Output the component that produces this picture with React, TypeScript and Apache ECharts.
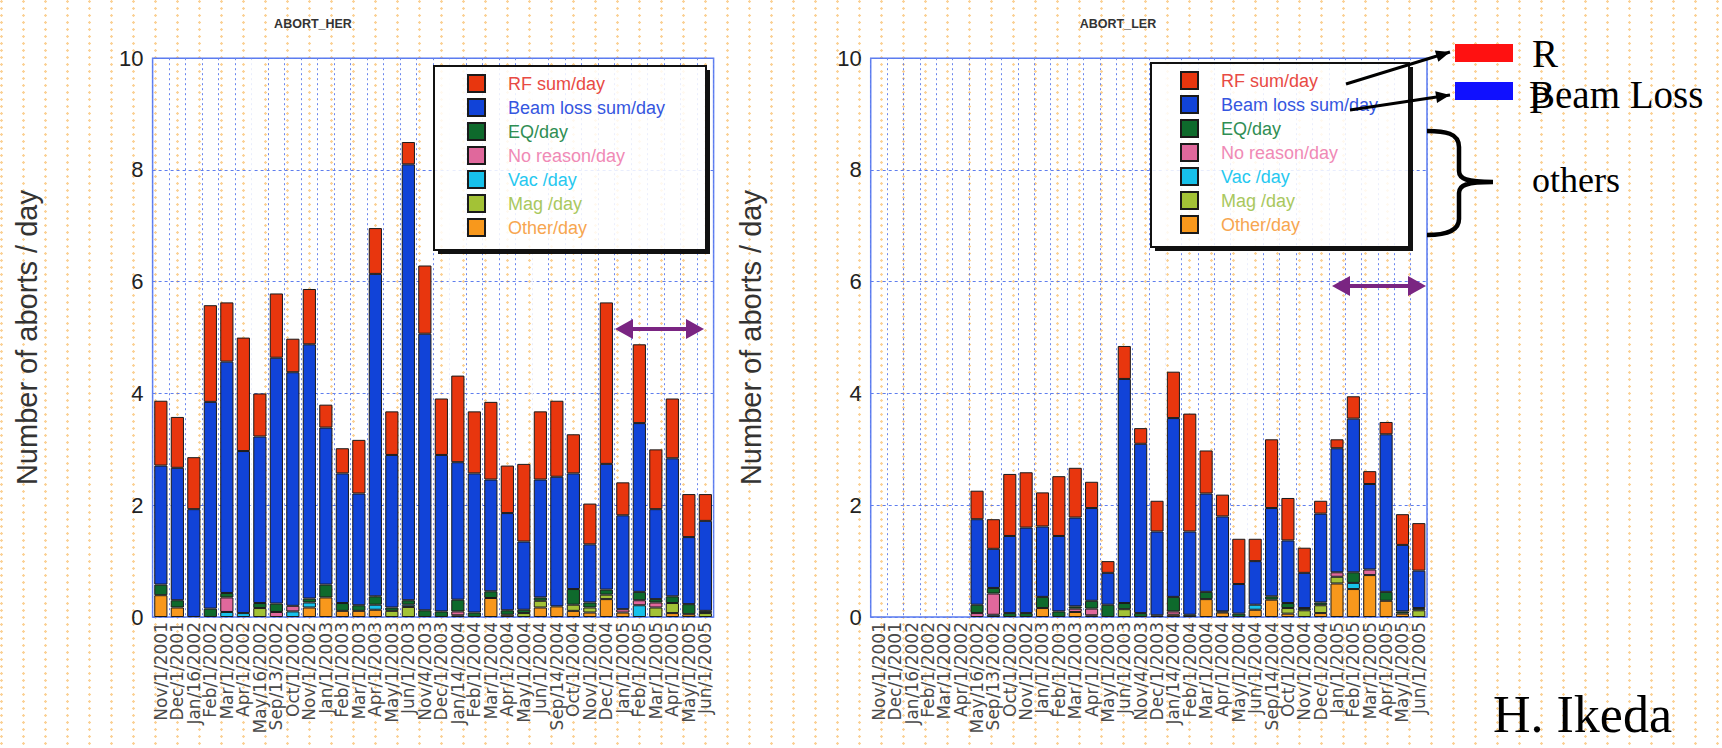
import React, { useEffect, useRef } from "react";
import * as echarts from "echarts";

const categories = [
  "Nov/1/2001", "Dec/1/2001", "Jan/16/2002", "Feb/1/2002", "Mar/1/2002", "Apr/1/2002",
  "May/16/2002", "Sep/13/2002", "Oct/1/2002", "Nov/1/2002", "Jan/1/2003", "Feb/1/2003",
  "Mar/1/2003", "Apr/1/2003", "May/1/2003", "Jun/1/2003", "Nov/4/2003", "Dec/1/2003",
  "Jan/14/2004", "Feb/1/2004", "Mar/1/2004", "Apr/1/2004", "May/1/2004", "Jun/1/2004",
  "Sep/14/2004", "Oct/1/2004", "Nov/1/2004", "Dec/1/2004", "Jan/1/2005", "Feb/1/2005",
  "Mar/1/2005", "Apr/1/2005", "May/1/2005", "Jun/1/2005",
];

const seriesNames = ["RF sum/day", "Beam loss sum/day", "EQ/day", "No reason/day", "Vac /day", "Mag /day", "Other/day"];
const seriesColors = ["#e8360e", "#1143d8", "#0e6a2c", "#e0689c", "#17c1ea", "#a3c236", "#f8981c"];
const legendTextColors = ["#e84a44", "#3556e0", "#2f8e54", "#f08ab6", "#26c8f0", "#a9c85e", "#f7a650"];

// ABORT_HER
const herRF = [1.16, 0.91, 0.93, 1.73, 1.06, 2.03, 0.77, 1.15, 0.60, 0.99, 0.41, 0.45, 0.96, 0.82, 0.78, 0.40, 1.22, 1.01, 1.55, 1.11, 1.39, 0.85, 1.39, 1.22, 1.36, 0.70, 0.73, 2.89, 0.59, 1.41, 1.07, 1.07, 0.77, 0.48];
const herBeam = [2.13, 2.37, 1.93, 3.70, 4.14, 2.90, 2.98, 4.40, 4.18, 4.55, 2.81, 2.32, 2.00, 5.77, 2.73, 7.80, 4.95, 2.80, 2.46, 2.49, 2.00, 1.74, 1.22, 2.11, 2.32, 2.07, 1.04, 2.25, 1.68, 3.02, 1.61, 2.47, 1.20, 1.61];
const herEQ = [0.19, 0.13, 0, 0.15, 0.08, 0, 0.09, 0.15, 0, 0.07, 0.23, 0.14, 0.10, 0.15, 0.06, 0.08, 0.12, 0.10, 0.21, 0.08, 0.12, 0.08, 0.06, 0.06, 0, 0.28, 0.09, 0.09, 0, 0.15, 0.06, 0.12, 0.18, 0.04];
const herNoReason = [0, 0, 0, 0, 0.26, 0, 0, 0.09, 0.10, 0, 0, 0, 0, 0, 0, 0, 0, 0, 0.07, 0, 0, 0, 0, 0, 0, 0, 0, 0, 0.06, 0.09, 0.09, 0, 0, 0];
const herVac = [0, 0, 0, 0, 0.09, 0.07, 0, 0, 0.10, 0.09, 0, 0, 0, 0.09, 0, 0.04, 0, 0, 0, 0, 0, 0, 0, 0, 0, 0, 0, 0, 0, 0.21, 0, 0, 0, 0];
const herMag = [0, 0, 0, 0, 0, 0, 0.16, 0, 0, 0, 0, 0, 0, 0, 0.11, 0.18, 0, 0, 0, 0, 0, 0, 0.07, 0.12, 0, 0.11, 0.09, 0.08, 0, 0, 0.17, 0.18, 0, 0.07];
const herOther = [0.39, 0.17, 0, 0, 0, 0, 0, 0, 0, 0.17, 0.35, 0.11, 0.11, 0.13, 0, 0, 0, 0, 0.03, 0, 0.34, 0.04, 0, 0.17, 0.19, 0.11, 0.08, 0.32, 0.08, 0, 0, 0.07, 0.05, 0];

// ABORT_LER (no data for the first six periods)
const lerRF = [null, null, null, null, null, null, 0.51, 0.53, 1.11, 0.99, 0.61, 1.07, 0.89, 0.47, 0.21, 0.59, 0.28, 0.55, 0.83, 2.11, 0.77, 0.39, 0.81, 0.40, 1.23, 0.76, 0.45, 0.23, 0.16, 0.40, 0.23, 0.22, 0.55, 0.85];
const lerBeam = [null, null, null, null, null, null, 1.53, 0.70, 1.38, 1.53, 1.26, 1.35, 1.59, 1.66, 0.57, 4.01, 3.03, 1.50, 3.20, 1.49, 1.76, 1.70, 0.53, 0.78, 1.58, 1.12, 0.63, 1.59, 2.22, 2.75, 1.53, 2.82, 1.19, 0.67];
const lerEQ = [null, null, null, null, null, null, 0.15, 0.10, 0.07, 0.07, 0.20, 0.10, 0.04, 0.14, 0.22, 0.11, 0.07, 0.03, 0.26, 0.04, 0.13, 0.02, 0.06, 0, 0.06, 0.09, 0.04, 0.05, 0, 0.19, 0, 0.16, 0.04, 0.04];
const lerNoReason = [null, null, null, null, null, null, 0.07, 0.38, 0, 0, 0, 0, 0.06, 0.12, 0, 0, 0, 0, 0.06, 0, 0, 0, 0, 0, 0, 0, 0, 0, 0.08, 0, 0.10, 0, 0, 0];
const lerVac = [null, null, null, null, null, null, 0, 0.04, 0, 0, 0, 0, 0, 0, 0, 0, 0, 0, 0, 0, 0, 0, 0, 0.09, 0, 0, 0, 0, 0, 0.11, 0, 0, 0, 0];
const lerMag = [null, null, null, null, null, null, 0, 0, 0, 0, 0, 0, 0, 0, 0, 0.14, 0, 0, 0, 0, 0, 0, 0, 0, 0, 0.10, 0.12, 0.14, 0.12, 0, 0, 0, 0, 0.12];
const lerOther = [null, null, null, null, null, null, 0, 0, 0, 0, 0.16, 0, 0.09, 0.03, 0, 0, 0, 0, 0.04, 0, 0.32, 0.08, 0, 0.13, 0.31, 0.06, 0, 0.07, 0.60, 0.50, 0.75, 0.29, 0.06, 0];

const yTicks = { min: 0, max: 10, interval: 2 };

// category boundaries where the original plots show a white separator
const herSeparators = [6, 18, 23];
const lerSeparators = [18, 23];

const herSets = [herRF, herBeam, herEQ, herNoReason, herVac, herMag, herOther];
const lerSets = [lerRF, lerBeam, lerEQ, lerNoReason, lerVac, lerMag, lerOther];

function head(x1: number, y1: number, x2: number, y2: number, len: number, half: number) {
  const dx = x2 - x1, dy = y2 - y1;
  const L = Math.hypot(dx, dy);
  const ux = dx / L, uy = dy / L;
  const bx = x2 - ux * len, by = y2 - uy * len;
  return [[x2, y2], [bx - uy * half, by + ux * half], [bx + uy * half, by - ux * half]];
}

function doubleArrow(x1: number, x2: number, y: number, color: string) {
  return [
    { type: "line", z: 20, shape: { x1: x1 + 12, y1: y, x2: x2 - 12, y2: y }, style: { stroke: color, lineWidth: 4 } },
    { type: "polygon", z: 20, shape: { points: head(x2, y, x1, y, 18, 10) }, style: { fill: color } },
    { type: "polygon", z: 20, shape: { points: head(x1, y, x2, y, 18, 10) }, style: { fill: color } },
  ];
}

function blackArrow(x1: number, y1: number, x2: number, y2: number) {
  return [
    { type: "line", z: 20, shape: { x1, y1, x2, y2 }, style: { stroke: "#000", lineWidth: 3 } },
    { type: "polygon", z: 20, shape: { points: head(x1, y1, x2, y2, 14, 6) }, style: { fill: "#000" } },
  ];
}

function legendBox(x: number, y: number, w: number, h: number) {
  return [
    { type: "rect", z: 3, shape: { x: x + 4, y: y + h, width: w, height: 4 }, style: { fill: "#111" } },
    { type: "rect", z: 3, shape: { x: x + w, y: y + 4, width: 4, height: h }, style: { fill: "#111" } },
    { type: "rect", z: 3, shape: { x, y, width: w, height: h }, style: { fill: "rgba(255,255,255,0.86)", stroke: "#111", lineWidth: 2 } },
  ];
}

const BRACE = "M0 2 C18 2 32 4 32 18 L32 42 C32 50 40 53 66 53 C40 53 32 56 32 64 L32 90 C32 102 18 106 0 106";
echarts.graphic.registerShape("brace", echarts.graphic.extendPath(BRACE, {}));

const G1 = { left: 152.6, top: 58.2, width: 561, height: 558.8 };
const G2 = { left: 870.7, top: 58.2, width: 556.3, height: 558.8 };

function separators(g: typeof G1, ks: number[]) {
  const cw = g.width / categories.length;
  return ks.map((k) => ({
    type: "line",
    z: 2.5,
    shape: { x1: g.left + k * cw, y1: g.top + 1, x2: g.left + k * cw, y2: g.top + g.height - 1 },
    style: { stroke: "rgba(255,255,255,0.85)", lineWidth: 2 },
  }));
}

export default function App() {
  const ref = useRef<HTMLDivElement>(null);

  useEffect(() => {
    if (!ref.current) return;
    const chart = echarts.init(ref.current, undefined, { renderer: "svg" });
    const font = "Arial, 'Liberation Sans', sans-serif";
    const serif = "'Liberation Serif', 'Times New Roman', serif";

    const mkX = (gridIndex: number) => ({
      type: "category",
      gridIndex,
      data: categories,
      axisLine: { show: false },
      axisTick: { show: false },
      axisLabel: { rotate: 90, interval: 0, fontSize: 17, fontFamily: "'DejaVu Sans', sans-serif", color: "#4a4a4a", margin: 5 },
      splitLine: { show: true, interval: 0, lineStyle: { color: "#6a86ee", type: [2, 3], width: 1 } },
    });
    const mkY = (gridIndex: number, gap: number) => ({
      type: "value",
      gridIndex,
      min: yTicks.min,
      max: yTicks.max,
      interval: yTicks.interval,
      axisLine: { show: false },
      axisTick: { show: false },
      axisLabel: { fontSize: 22, fontFamily: font, color: "#222", margin: 9 },
      splitLine: { show: true, lineStyle: { color: "#5f7eee", type: [3, 3], width: 1 } },
      name: "Number of aborts / day",
      nameLocation: "middle",
      nameGap: gap,
      nameTextStyle: { fontSize: 29, fontFamily: font, color: "#333" },
    });

    const order = [6, 5, 4, 3, 2, 1, 0];
    const mkSeries = (sets: (number | null)[][], idx: number, stack: string) =>
      order.map((k) => ({
        type: "bar",
        name: seriesNames[k],
        xAxisIndex: idx,
        yAxisIndex: idx,
        stack,
        barCategoryGap: "20%",
        data: sets[k].map((v) => (v === 0 ? null : v)),
        itemStyle: { color: seriesColors[k], borderColor: "#1a1a1a", borderWidth: 1 },
      }));

    const legendData = seriesNames.map((n, i) => ({ name: n, textStyle: { color: legendTextColors[i] } }));
    const mkLegend = (left: number, top: number) => ({
      orient: "vertical",
      left,
      top,
      z: 10,
      padding: 0,
      itemWidth: 17,
      itemHeight: 17,
      itemGap: 5,
      icon: "rect",
      selectedMode: false,
      data: legendData,
      textStyle: { fontSize: 18, fontFamily: font, lineHeight: 18, padding: [0, 0, 0, 18] },
    });

    const graphics: any[] = [
      { type: "text", z: 20, x: 313, y: 24, style: { text: "ABORT_HER", font: `bold 12.5px ${font}`, fill: "#333", align: "center", verticalAlign: "middle" } },
      { type: "text", z: 20, x: 1118, y: 24, style: { text: "ABORT_LER", font: `bold 12.5px ${font}`, fill: "#333", align: "center", verticalAlign: "middle" } },
      ...separators(G1, herSeparators),
      ...separators(G2, lerSeparators),
      ...legendBox(434, 66, 272, 184),
      ...legendBox(1151, 63, 258, 184),
      ...doubleArrow(615, 704, 329, "#7a2582"),
      ...doubleArrow(1332, 1426, 286, "#7a2582"),
      ...blackArrow(1346, 84, 1450, 52),
      ...blackArrow(1350, 110, 1450, 95),
      { type: "rect", z: 20, shape: { x: 1455, y: 44, width: 58, height: 18 }, style: { fill: "#ff1111" } },
      { type: "rect", z: 20, shape: { x: 1455, y: 82, width: 58, height: 18 }, style: { fill: "#1010ff" } },
      { type: "text", z: 20, x: 1532, y: 53, style: { text: "R", font: `39px ${serif}`, fill: "#000", verticalAlign: "middle" } },
      { type: "text", z: 20, x: 1529, y: 99, style: { text: "P", font: `39px ${serif}`, fill: "#000", verticalAlign: "middle" } },
      { type: "text", z: 20, x: 1529, y: 94, style: { text: "Beam Loss", font: `39px ${serif}`, fill: "#000", verticalAlign: "middle" } },
      { type: "brace", z: 20, x: 1427, y: 129, shape: {}, style: { stroke: "#000", lineWidth: 4.5, fill: null } },
      { type: "text", z: 20, x: 1532, y: 180, style: { text: "others", font: `36px ${serif}`, fill: "#000", verticalAlign: "middle" } },
      { type: "text", z: 20, x: 1493, y: 714, style: { text: "H. Ikeda", font: `52px ${serif}`, fill: "#000", verticalAlign: "middle" } },
    ];

    chart.setOption({
      animation: false,
      backgroundColor: "transparent",
      grid: [
        { ...G1, show: true, borderColor: "#5a7bf0", borderWidth: 1.5, backgroundColor: "transparent" },
        { ...G2, show: true, borderColor: "#5a7bf0", borderWidth: 1.5, backgroundColor: "transparent" },
      ],
      xAxis: [mkX(0), mkX(1)],
      yAxis: [mkY(0, 111), mkY(1, 105)],
      legend: [mkLegend(467, 74), mkLegend(1180, 71)],
      series: [...mkSeries(herSets, 0, "her"), ...mkSeries(lerSets, 1, "ler")],
      graphic: graphics,
    });

    return () => chart.dispose();
  }, []);

  return (
    <div
      style={{
        position: "fixed",
        left: 0,
        top: 0,
        width: 1722,
        height: 748,
        backgroundColor: "#fff",
        backgroundImage: "radial-gradient(circle at 1.5px 1.5px, rgba(247,172,64,0.55) 1px, rgba(255,255,255,0) 1.5px)",
        backgroundSize: "22px 7px",
      }}
    >
      <div ref={ref} style={{ width: 1722, height: 748 }} />
    </div>
  );
}
